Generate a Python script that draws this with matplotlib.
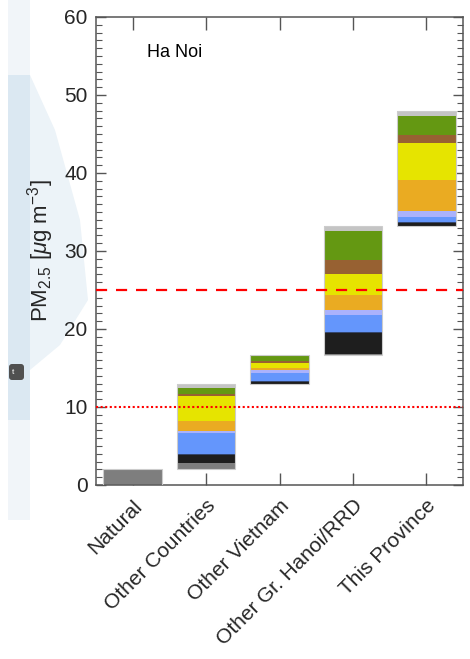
import numpy as np
import matplotlib
matplotlib.use("Agg")
import matplotlib.pyplot as plt
from matplotlib.patches import FancyBboxPatch, Polygon

plt.rcParams['font.family'] = ['Liberation Sans', 'DejaVu Sans']
plt.rcParams['mathtext.fontset'] = 'custom'
plt.rcParams['mathtext.rm'] = 'Liberation Sans'
plt.rcParams['mathtext.it'] = 'Liberation Sans:italic'

# Source categories along the x axis
categories = ["Natural", "Other Countries", "Other Vietnam",
              "Other Gr. Hanoi/RRD", "This Province"]

# Stacked contributions (ug m-3), bottom layer first
layer_gray      = [2.10, 0.68, 0.05, 0.13, 0.05]
layer_black     = [0.00, 1.02, 0.25, 2.72, 0.35]
layer_navy      = [0.00, 0.17, 0.10, 0.10, 0.16]
layer_blue      = [0.00, 2.74, 1.00, 2.20, 0.64]
layer_lavender  = [0.00, 0.21, 0.35, 0.60, 0.77]
layer_orange    = [0.00, 1.24, 0.35, 1.86, 4.02]
layer_yellow    = [0.00, 3.25, 0.65, 2.78, 4.69]
layer_brown     = [0.00, 0.21, 0.20, 1.71, 1.08]
layer_green     = [0.00, 0.82, 0.65, 3.75, 2.39]
layer_lightgray = [0.00, 0.51, 0.15, 0.60, 0.65]

# Air quality guideline / standard levels
limit_dashed = 25
limit_dotted = 10

layers = [layer_gray, layer_black, layer_navy, layer_blue, layer_lavender,
          layer_orange, layer_yellow, layer_brown, layer_green, layer_lightgray]
colors = ["#7e7e7e", "#1e1e1e", "#34466e", "#6496fc", "#aab2fc",
          "#eaab22", "#e6e400", "#976132", "#649812", "#c4c4c4"]

fig = plt.figure(figsize=(4.70, 6.59), dpi=100)
fig.patch.set_facecolor("white")

# pale slide background on the left margin
bg = fig.add_axes([0, 0, 0.2, 1], zorder=-5)
bg.set_axis_off()
bg.set_xlim(0, 94)
bg.set_ylim(659, 0)
bg.add_patch(Polygon([[8, 0], [30, 0], [30, 520], [8, 520]],
                     closed=True, facecolor="#f1f5f9", edgecolor="none"))
bg.add_patch(Polygon([[8, 75], [30, 75], [55, 130], [80, 220], [88, 300],
                      [60, 345], [30, 370], [8, 385]],
                     closed=True, facecolor="#ecf3f8", edgecolor="none"))
bg.add_patch(Polygon([[8, 75], [30, 75], [30, 420], [8, 420]],
                     closed=True, facecolor="#dbe8f2", edgecolor="none"))
bg.add_patch(FancyBboxPatch((9, 364), 15, 16, boxstyle="round,pad=0,rounding_size=3",
                            facecolor="#505050", edgecolor="none"))
bg.text(12, 372, "t", color="white", fontsize=6, va="center", ha="left")

ax = fig.add_axes([96 / 470, 1 - 485 / 659, 367 / 470, 468 / 659])

x = np.arange(1, len(categories) + 1)
vals = np.array(layers)
totals = vals.sum(axis=0)
bases = np.concatenate([[0], np.cumsum(totals)[:-1]])
width = 0.8

bottom = bases.copy()
for v, c in zip(vals, colors):
    ax.bar(x, v, width=width, bottom=bottom, color=c, edgecolor="none",
           linewidth=0, zorder=2)
    bottom = bottom + v
ax.bar(x, totals, width=width, bottom=bases, color="none",
       edgecolor="#cccccc", linewidth=0.8, zorder=3)

ax.axhline(limit_dashed, color="#ff0000", linestyle=(0, (5, 4)), linewidth=1.6, zorder=4)
ax.axhline(limit_dotted, color="#ff0000", linestyle=(0, (1, 1.2)), linewidth=1.5, zorder=4)

ax.set_xlim(0.5, 5.5)
ax.set_ylim(0, 60)
ax.set_yticks(np.arange(0, 61, 10))
ax.set_yticks(np.arange(0, 61, 1), minor=True)
ax.set_xticks(x)
ax.set_xticklabels(categories, rotation=45, ha="right", rotation_mode="anchor",
                   fontsize=15, color="#262626")
ax.tick_params(axis="y", which="major", direction="in", length=7, width=1,
               left=True, right=True, labelsize=15, labelcolor="#262626",
               color="#555555", pad=6)
ax.tick_params(axis="y", which="minor", direction="in", length=4, width=0.8,
               left=True, right=True, color="#555555")
ax.tick_params(axis="x", which="major", direction="in", length=9, width=1,
               bottom=True, top=True, color="#555555", pad=8)
for s in ax.spines.values():
    s.set_color("#555555")
    s.set_linewidth(1.1)

ax.set_ylabel(r"PM$_{2.5}$ [$\mu$g m$^{-3}$]", fontsize=16, color="#262626", labelpad=6)
ax.text(1.2, 55.4, "Ha Noi", fontsize=13, color="black", ha="left", va="center")

fig.savefig("out.png", dpi=100)
